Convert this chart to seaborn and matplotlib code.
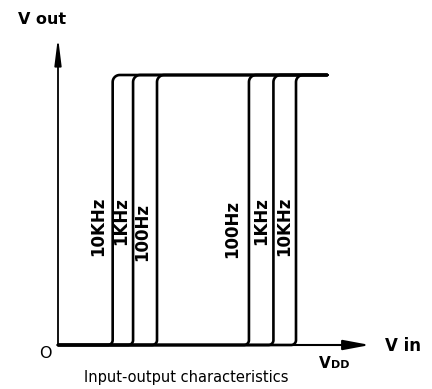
import numpy as np
import pandas as pd
import matplotlib
matplotlib.use("Agg")
import matplotlib.pyplot as plt
import seaborn as sns

# Switching thresholds (fraction of VDD) for each input frequency
freqs = ["10KHz", "1KHz", "100Hz", "100Hz", "1KHz", "10KHz"]
thresholds = [0.201, 0.276, 0.364, 0.702, 0.792, 0.875]
vout_low = 0.0
vout_high = 1.0
vin_end = 0.99          # right end of the high output level
label_height = [0.44, 0.46, 0.42, 0.43, 0.46, 0.44]
label_offset_px = [-14.7, -11.5, -14.5, -16.5, -12.3, -12.0]

sns.set_style("white")
plt.rcParams["font.family"] = ["DejaVu Sans"]
plt.rcParams["text.color"] = "black"

fig = plt.figure(figsize=(4.32, 3.89), dpi=100)
ax = fig.add_axes([0, 0, 1, 1])
ax.set_xlim(-58 / 272, (432 - 58) / 272)
ax.set_ylim(-44 / 270, 345 / 270)
ax.axis("off")

# Build each transfer curve: low level, rounded corner, vertical edge,
# rounded corner, high level.
r_bot, r_top = 0.018, 0.026
rows = []
for i, t in enumerate(thresholds):
    xs = [0.0]
    ys = [vout_low]
    a = np.linspace(-np.pi / 2, 0, 12)
    xs += list(t - r_bot + r_bot * np.cos(a))
    ys += list(vout_low + r_bot + r_bot * np.sin(a))
    a = np.linspace(np.pi, np.pi / 2, 12)
    xs += list(t + r_top + r_top * np.cos(a))
    ys += list(vout_high - r_top + r_top * np.sin(a))
    xs.append(vin_end)
    ys.append(vout_high)
    for k, (x, y) in enumerate(zip(xs, ys)):
        rows.append({"vin": x, "vout": y, "curve": i, "order": k})
df = pd.DataFrame(rows)

sns.lineplot(data=df, x="vin", y="vout", units="curve", estimator=None,
             sort=False, color="black", lw=1.9, ax=ax, legend=False)

# Axes with arrow heads
ax.annotate("", xy=(1.147, 0), xytext=(0, 0),
            arrowprops=dict(arrowstyle="-|>,head_length=1.6,head_width=0.3",
                            lw=1.5, color="black", shrinkA=0, shrinkB=0,
                            mutation_scale=10))
ax.annotate("", xy=(0, 1.14), xytext=(0, 0),
            arrowprops=dict(arrowstyle="-|>,head_length=1.6,head_width=0.2",
                            lw=1.3, color="black", shrinkA=0, shrinkB=0,
                            mutation_scale=10))

# Frequency labels beside each edge
for f, t, h, off in zip(freqs, thresholds, label_height, label_offset_px):
    ax.annotate(f, xy=(t, h), xytext=(off, 0), textcoords="offset pixels",
                rotation=90, ha="center", va="center", fontsize=12,
                fontweight="bold", color="black")

ax.text(-0.059, 1.207, "V out", ha="center", va="center", fontsize=11.5,
        fontweight="bold")
ax.text(1.268, -0.004, "V in", ha="center", va="center", fontsize=12,
        fontweight="bold")
ax.text(-0.048, -0.033, "O", ha="center", va="center", fontsize=11.5)
ax.text(0.96, -0.085, "V", ha="left", va="baseline", fontsize=11,
        fontweight="bold")
ax.text(1.005, -0.085, "DD", ha="left", va="baseline", fontsize=8,
        fontweight="bold")
ax.text(0.471, -0.122, "Input-output characteristics", ha="center",
        va="center", fontsize=10.5)

fig.savefig("out.png", dpi=100)
